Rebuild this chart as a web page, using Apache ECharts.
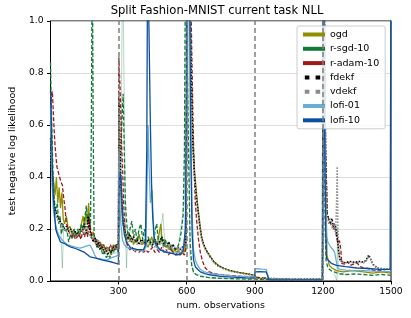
<!DOCTYPE html>
<html><head><meta charset="utf-8">
<script src="https://cdn.jsdelivr.net/npm/echarts@6/dist/echarts.min.js"></script>
<style>html,body{margin:0;padding:0;background:#fff}#c{width:411px;height:318px}</style>
</head><body><div id="c"></div>
<script>
const seriesNames = ['ogd','r-sgd-10','r-adam-10','fdekf','vdekf','lofi-01','lofi-10'];
const xTicks = [300,600,900,1200,1500];
const taskBoundaries = [300,600,900,1200];

const ogd = [[0,0.62],[4,0.5],[8,0.42],[14,0.38],[20,0.33],[26,0.4],[32,0.3],[38,0.36],[44,0.28],[50,0.34],[56,0.24],[62,0.22],[70,0.25],[78,0.2],[86,0.21],[95,0.18],[104,0.2],[112,0.17],[120,0.19],[128,0.17],[136,0.22],[144,0.25],[150,0.2],[156,0.27],[162,0.22],[168,0.3],[174,0.2],[180,0.17],[188,0.19],[196,0.15],[204,0.16],[212,0.13],[220,0.15],[228,0.12],[236,0.14],[244,0.11],[252,0.13],[260,0.12],[268,0.1],[276,0.14],[284,0.12],[292,0.13],[299,0.12],
[302,0.6],[306,0.4],[312,0.3],[318,0.22],[326,0.2],[334,0.17],[342,0.19],[350,0.15],[358,0.17],[366,0.14],[374,0.16],[382,0.15],[390,0.18],[398,0.15],[406,0.14],[414,0.16],[422,0.14],[430,0.13],[438,0.15],[446,0.17],[454,0.14],[462,0.16],[470,0.13],[478,0.18],[486,0.22],[492,0.15],[500,0.16],[508,0.13],[516,0.14],[524,0.12],[532,0.13],[540,0.11],[548,0.12],[556,0.11],[564,0.12],[572,0.1],[580,0.12],[588,0.11],[595,0.13],
[600,0.8],[604,1.3],[612,1.2],[620,0.8],[627,0.55],[635,0.42],[642,0.35],[650,0.28],[658,0.22],[666,0.17],[675,0.14],[685,0.12],[700,0.1],[720,0.075],[740,0.06],[760,0.05],[790,0.04],[830,0.033],[870,0.027],[899,0.022],
[903,0.01],[960,0.008],[1050,0.006],[1150,0.005],[1198,0.005],
[1201,0.6],[1205,1.2],[1212,0.4],[1218,0.1],[1228,0.06],[1240,0.05],[1260,0.04],[1290,0.035],[1330,0.04],[1380,0.035],[1420,0.03],[1460,0.035],[1499,0.03]];

const rsgd10 = [[0,0.84],[3,0.7],[6,0.58],[10,0.45],[14,0.35],[18,0.3],[24,0.26],[30,0.3],[36,0.22],[42,0.25],[48,0.18],[56,0.22],[64,0.19],[72,0.2],[80,0.15],[88,0.18],[96,0.16],[104,0.2],[112,0.17],[120,0.2],[128,0.17],[136,0.22],[144,0.2],[152,0.25],[158,0.29],[164,0.22],[170,0.26],[176,0.2],[180,0.6],[184,1.3],[188,0.6],[192,0.18],[198,0.15],[206,0.14],[214,0.12],[222,0.13],[230,0.1],[238,0.11],[246,0.09],[254,0.1],[262,0.09],[270,0.13],[278,0.11],[286,0.14],[294,0.12],[299,0.11],
[303,0.3],[308,0.45],[314,0.6],[320,0.72],[325,0.5],[330,0.3],[336,0.22],[342,0.16],[350,0.2],[358,0.23],[366,0.17],[374,0.2],[382,0.15],[390,0.2],[398,0.22],[406,0.16],[414,0.2],[422,0.14],[430,0.17],[438,0.15],[446,0.13],[454,0.15],[462,0.2],[468,0.22],[474,0.16],[482,0.14],[490,0.17],[498,0.13],[506,0.16],[514,0.13],[522,0.15],[530,0.12],[540,0.14],[550,0.12],[560,0.13],[568,0.15],[576,0.19],[584,0.25],[590,0.5],[595,1.3],
[600,1.3],[608,0.5],[615,0.15],[622,0.06],[630,0.035],[640,0.025],[660,0.018],[700,0.013],[760,0.01],[830,0.008],[899,0.007],
[903,0.005],[1000,0.004],[1100,0.004],[1198,0.004],
[1200,1.3],[1206,1.3],[1210,0.2],[1214,0.08],[1222,0.05],[1235,0.04],[1250,0.035],[1270,0.028],[1300,0.025],[1340,0.027],[1380,0.025],[1420,0.022],[1460,0.025],[1499,0.022]];

const radam10 = [[0,0.6],[4,0.72],[8,0.73],[12,0.66],[16,0.58],[20,0.52],[24,0.48],[28,0.44],[34,0.42],[40,0.4],[46,0.38],[52,0.37],[58,0.32],[64,0.28],[70,0.22],[78,0.2],[86,0.18],[94,0.17],[102,0.18],[110,0.16],[118,0.17],[126,0.18],[134,0.16],[142,0.19],[150,0.17],[158,0.2],[164,0.17],[170,0.24],[176,0.2],[184,0.17],[192,0.15],[200,0.16],[208,0.14],[216,0.15],[224,0.13],[232,0.14],[240,0.12],[248,0.13],[256,0.12],[264,0.14],[272,0.12],[280,0.14],[290,0.13],[299,0.14],
[301,0.86],[306,0.75],[310,0.64],[314,0.5],[318,0.42],[322,0.3],[328,0.2],[334,0.15],[342,0.13],[350,0.12],[360,0.13],[370,0.11],[380,0.12],[390,0.11],[400,0.12],[410,0.11],[420,0.12],[430,0.11],[440,0.12],[450,0.13],[460,0.11],[470,0.12],[480,0.11],[490,0.13],[500,0.11],[510,0.12],[520,0.1],[530,0.12],[540,0.11],[550,0.1],[560,0.11],[570,0.1],[580,0.11],[590,0.1],[596,0.12],
[600,0.5],[604,1.3],[614,1.3],[620,1.0],[626,0.7],[632,0.45],[638,0.3],[645,0.22],[652,0.16],[660,0.11],[670,0.075],[682,0.05],[700,0.035],[730,0.027],[780,0.022],[840,0.018],[899,0.015],
[903,0.008],[1000,0.006],[1100,0.006],[1198,0.006],
[1201,0.5],[1205,1.2],[1212,0.5],[1220,0.25],[1230,0.23],[1240,0.21],[1251,0.22],[1260,0.17],[1266,0.145],[1273,0.155],[1279,0.12],[1283,0.068],[1295,0.065],[1309,0.074],[1320,0.06],[1335,0.065],[1350,0.07],[1365,0.055],[1380,0.05],[1400,0.048],[1420,0.042],[1450,0.04],[1480,0.036],[1499,0.035]];

const fdekf = [[0,0.55],[5,0.45],[10,0.35],[16,0.3],[22,0.27],[30,0.25],[40,0.23],[50,0.22],[60,0.2],[70,0.21],[80,0.19],[90,0.2],[100,0.18],[110,0.19],[120,0.18],[130,0.2],[140,0.19],[150,0.22],[158,0.18],[166,0.25],[172,0.2],[180,0.17],[188,0.15],[196,0.17],[204,0.13],[212,0.15],[220,0.12],[228,0.14],[236,0.11],[244,0.13],[252,0.1],[260,0.12],[268,0.11],[276,0.13],[284,0.12],[292,0.14],[299,0.13],
[302,0.7],[306,0.5],[312,0.35],[318,0.25],[326,0.2],[334,0.17],[342,0.16],[350,0.18],[358,0.15],[366,0.17],[374,0.15],[382,0.16],[390,0.14],[400,0.16],[410,0.15],[420,0.14],[430,0.16],[440,0.15],[450,0.14],[460,0.16],[470,0.14],[480,0.15],[490,0.17],[500,0.14],[510,0.13],[520,0.15],[530,0.13],[540,0.14],[550,0.12],[560,0.13],[570,0.12],[580,0.13],[590,0.14],[596,0.15],
[600,0.8],[604,1.3],[612,1.2],[620,0.8],[627,0.52],[635,0.4],[642,0.33],[650,0.27],[658,0.21],[666,0.165],[675,0.14],[685,0.12],[700,0.098],[720,0.073],[740,0.058],[760,0.05],[790,0.04],[830,0.032],[870,0.026],[899,0.022],
[903,0.012],[960,0.01],[1050,0.008],[1150,0.008],[1198,0.008],
[1201,0.6],[1205,1.2],[1212,0.5],[1218,0.26],[1225,0.24],[1232,0.22],[1240,0.24],[1248,0.2],[1256,0.21],[1264,0.16],[1270,0.11],[1276,0.08],[1285,0.074],[1300,0.07],[1320,0.075],[1340,0.072],[1360,0.075],[1380,0.073],[1390,0.08],[1402,0.1],[1410,0.085],[1420,0.065],[1440,0.05],[1460,0.046],[1480,0.045],[1499,0.045]];

const vdekf = [[0,0.5],[5,0.42],[10,0.33],[16,0.28],[22,0.25],[30,0.24],[40,0.22],[50,0.21],[60,0.2],[70,0.19],[80,0.2],[90,0.18],[100,0.19],[110,0.17],[120,0.18],[130,0.19],[140,0.2],[150,0.18],[160,0.21],[168,0.19],[176,0.17],[184,0.16],[192,0.17],[200,0.14],[210,0.16],[220,0.13],[230,0.14],[240,0.12],[250,0.13],[260,0.11],[270,0.13],[280,0.12],[290,0.13],[299,0.12],
[302,0.65],[306,0.48],[312,0.33],[318,0.24],[326,0.19],[334,0.17],[342,0.15],[350,0.17],[360,0.15],[370,0.16],[380,0.14],[390,0.15],[400,0.14],[410,0.15],[420,0.13],[430,0.15],[440,0.14],[450,0.15],[460,0.13],[470,0.15],[480,0.14],[490,0.15],[500,0.13],[510,0.14],[520,0.12],[530,0.14],[540,0.12],[550,0.13],[560,0.12],[570,0.13],[580,0.12],[590,0.13],[596,0.14],
[600,0.8],[604,1.3],[612,1.2],[620,0.78],[627,0.5],[635,0.39],[642,0.32],[650,0.26],[658,0.2],[666,0.16],[675,0.135],[685,0.115],[700,0.095],[720,0.07],[740,0.056],[760,0.048],[790,0.038],[830,0.031],[870,0.025],[899,0.021],
[903,0.011],[960,0.009],[1050,0.008],[1150,0.008],[1198,0.008],
[1201,0.6],[1205,1.2],[1212,0.45],[1218,0.25],[1226,0.22],[1234,0.24],[1242,0.2],[1250,0.22],[1256,0.18],[1260,0.3],[1263,0.44],[1266,0.2],[1272,0.1],[1280,0.075],[1300,0.07],[1320,0.072],[1340,0.07],[1360,0.073],[1380,0.07],[1392,0.078],[1402,0.095],[1412,0.08],[1422,0.06],[1440,0.05],[1460,0.048],[1480,0.046],[1499,0.046]];

const lofi01 = [[0,0.68],[4,0.5],[8,0.36],[12,0.28],[16,0.25],[22,0.22],[30,0.19],[40,0.17],[50,0.16],[60,0.15],[73,0.14],[90,0.135],[110,0.13],[130,0.126],[145,0.13],[160,0.135],[174,0.138],[185,0.12],[195,0.1],[203,0.087],[220,0.085],[246,0.08],[270,0.09],[289,0.096],[299,0.1],
[301,0.5],[305,0.3],[310,0.22],[317,0.158],[325,0.14],[335,0.13],[350,0.125],[370,0.12],[390,0.118],[410,0.115],[420,0.13],[426,0.4],[430,0.6],[434,0.45],[440,0.3],[447,0.35],[452,0.25],[458,0.16],[466,0.13],[480,0.12],[500,0.115],[520,0.11],[540,0.105],[560,0.11],[576,0.11],[586,0.13],[594,0.2],[598,0.4],
[600,0.5],[603,1.3],[612,1.2],[618,0.6],[624,0.25],[630,0.12],[638,0.08],[648,0.06],[660,0.045],[675,0.036],[700,0.03],[740,0.025],[800,0.02],[860,0.017],[899,0.015],
[901,0.045],[910,0.048],[930,0.046],[950,0.045],[956,0.044],[962,0.008],[1000,0.006],[1100,0.005],[1198,0.005],
[1200,1.3],[1208,1.3],[1212,0.3],[1216,0.17],[1222,0.15],[1235,0.13],[1245,0.12],[1252,0.11],[1258,0.08],[1265,0.05],[1275,0.045],[1300,0.042],[1340,0.04],[1380,0.04],[1420,0.038],[1460,0.037],[1499,0.036]];

const lofi10 = [[0,0.73],[4,0.6],[8,0.45],[12,0.33],[16,0.28],[23,0.2],[30,0.18],[44,0.15],[60,0.145],[73,0.138],[90,0.13],[110,0.125],[130,0.118],[150,0.11],[174,0.093],[200,0.088],[230,0.08],[260,0.075],[289,0.068],[299,0.065],
[301,0.3],[305,0.42],[310,0.4],[315,0.3],[320,0.22],[325,0.18],[335,0.15],[353,0.127],[380,0.122],[410,0.12],[418,0.14],[424,0.5],[428,1.3],[436,1.3],[440,0.6],[445,0.38],[450,0.25],[456,0.17],[465,0.14],[483,0.12],[510,0.11],[540,0.105],[555,0.1],[576,0.104],[586,0.12],[594,0.2],[598,0.5],
[601,1.3],[612,1.3],[618,0.5],[624,0.18],[630,0.08],[638,0.055],[648,0.045],[660,0.035],[680,0.028],[700,0.024],[750,0.018],[800,0.015],[860,0.012],[899,0.011],
[901,0.035],[920,0.036],[950,0.035],[957,0.034],[963,0.004],[1000,0.004],[1100,0.004],[1198,0.004],
[1200,1.3],[1208,1.3],[1212,0.2],[1216,0.087],[1237,0.068],[1260,0.06],[1300,0.055],[1350,0.05],[1400,0.048],[1450,0.045],[1496,0.045],[1500,1.3]];

const rsgd10Seeds = [[30,0.26],[44,0.22],[52,0.05],[58,0.2],[66,0.19],[100,0.17],[150,0.2],[200,0.14],[250,0.1],[299,0.11],
[310,0.4],[318,1.3],[326,1.3],[330,0.2],[335,0.05],[340,0.2],[400,0.16],[480,0.15],[495,0.26],[505,0.13],[560,0.12],[590,0.3],[596,1.3],[606,1.3],[614,0.1],[630,0.03],[700,0.012],[899,0.007],
[1000,null],[1250,0.03],[1262,0.0],[1264,0.2],[1268,0.03],[1300,0.025]];

const colors = {'ogd':'#8f8f00','r-sgd-10':'#137a3b','r-adam-10':'#a01919','fdekf':'#000000','vdekf':'#8a8a8a','lofi-01':'#6aaed6','lofi-10':'#0b4f9e'};
const FONT = 'DejaVu Sans';
const DOT_ICON = 'path://M0,0h0.05v4h-0.05z M1.8,0h4.6v4h-4.6z M12.6,0h4.6v4h-4.6z M21.95,0h0.05v4h-0.05z';

function lineSeries(name, data, type, width, opacity){
  return {name, type:'line', data, showSymbol:false, symbol:'none', clip:true,
    lineStyle:{color:colors[name], width, type, opacity: opacity==null?1:opacity},
    itemStyle:{color:colors[name]}, emphasis:{disabled:true}};
}

const series = [
  {name:'r-sgd-10 seeds', type:'line', data:rsgd10Seeds, showSymbol:false, symbol:'none', clip:true,
   lineStyle:{color:'#137a3b', width:1, opacity:0.3}, emphasis:{disabled:true}},
  lineSeries('ogd', ogd, 'solid', 1.3),
  lineSeries('r-sgd-10', rsgd10, [4,2], 1.3),
  lineSeries('r-adam-10', radam10, [4,2], 1.3),
  lineSeries('fdekf', fdekf, [1.5,1.5], 1.5),
  lineSeries('vdekf', vdekf, [1.5,1.5], 1.5),
  lineSeries('lofi-01', lofi01, 'solid', 1.3),
  lineSeries('lofi-10', lofi10, 'solid', 1.3),
  {name:'boundaries', type:'line', data:[], z:10,
   markLine:{silent:true, symbol:'none', label:{show:false},
     lineStyle:{color:'#7f7f7f', type:[5,3], width:1.5},
     data: taskBoundaries.map(v=>({xAxis:v}))}}
];

const legendData = seriesNames.map(n=>({
  name:n,
  icon:(n==='fdekf'||n==='vdekf') ? DOT_ICON : 'rect',
  itemStyle:{color:colors[n], opacity:1, borderWidth:0}
}));

const chart = echarts.init(document.getElementById('c'), null, {renderer:'canvas'});
chart.setOption({
  animation:false,
  color: seriesNames.map(n=>colors[n]),
  title:{text:'Split Fashion-MNIST current task NLL', left:217, textAlign:'center', top:5, padding:0,
    textStyle:{fontFamily:FONT, fontSize:11.6, fontWeight:'normal', color:'#000'}},
  grid:{left:43, right:20, top:21, bottom:37, show:true, borderColor:'#000', borderWidth:1, backgroundColor:'transparent'},
  legend:{data:legendData, orient:'vertical', left:297, top:26, padding:[3,6,3,6], itemWidth:22, itemHeight:4, itemGap:3.3,
    symbolKeepAspect:false,
    backgroundColor:'rgba(255,255,255,0.85)', borderColor:'#cccccc', borderWidth:1, borderRadius:2,
    textStyle:{fontFamily:FONT, fontSize:9.5, lineHeight:11, color:'#000'}},
  xAxis:{type:'value', min:0, max:1500, interval:300,
    name:'num. observations', nameLocation:'middle', nameGap:19,
    nameTextStyle:{fontFamily:FONT, fontSize:9.5, color:'#000'},
    axisLine:{lineStyle:{color:'#000', width:1}},
    axisTick:{show:true, inside:false, length:3.5, lineStyle:{color:'#000'}},
    axisLabel:{showMinLabel:false, fontFamily:FONT, fontSize:9.2, color:'#000', margin:6, formatter:v=>String(v)},
    splitLine:{show:false}},
  yAxis:{type:'value', min:0, max:1, interval:0.2,
    name:'test negative log likelihood', nameLocation:'middle', nameGap:27,
    nameTextStyle:{fontFamily:FONT, fontSize:9.5, color:'#000'},
    axisLine:{show:true, lineStyle:{color:'#000', width:1}},
    axisTick:{show:true, inside:false, length:3.5, lineStyle:{color:'#000'}},
    axisLabel:{fontFamily:FONT, fontSize:9.2, color:'#000', margin:7, formatter:v=>v.toFixed(1)},
    splitLine:{show:true, lineStyle:{color:'#d4d4d4', width:0.8}}},
  series
});
</script></body></html>
